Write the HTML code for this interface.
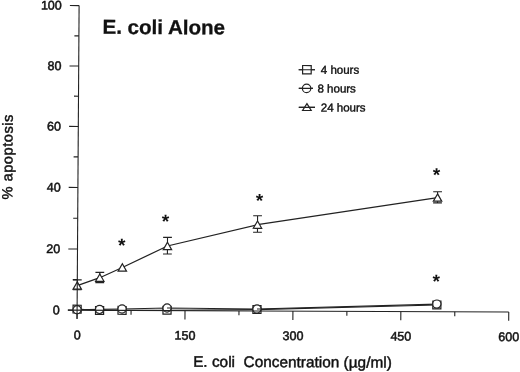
<!DOCTYPE html>
<html><head><meta charset="utf-8"><title>E. coli Alone</title>
<style>html,body{margin:0;padding:0;background:#fff;}body{width:520px;height:372px;overflow:hidden;}svg{display:block;}text{font-family:"Liberation Sans",Arial,Helvetica,sans-serif;fill:#111;}.ln{stroke:#222;stroke-width:1.1;fill:none;}.mk{stroke:#222;stroke-width:1.2;fill:#fff;}.sl{stroke:#222;stroke-width:1.25;fill:none;}.t12{font-size:12.5px;stroke:#111;stroke-width:0.5;}.t11{font-size:11.5px;stroke:#111;stroke-width:0.4;}.t13{font-size:15.3px;stroke:#111;stroke-width:0.45;}.ast{font-size:19px;font-weight:bold;text-anchor:middle;}</style></head><body>
<svg width="520" height="372" viewBox="0 0 520 372">
<rect width="520" height="372" fill="#fff"/>
<g transform="matrix(1,0.0042,-0.00657,1,77.1,310.2)">
<path class="ln" d="M-9.2,0.00 L0,0.00 M-4.5,-30.56 L0,-30.56 M-9.2,-61.22 L0,-61.22 M-4.5,-91.88 L0,-91.88 M-9.2,-122.74 L0,-122.74 M-4.5,-153.30 L0,-153.30 M-9.2,-183.76 L0,-183.76 M-4.5,-214.02 L0,-214.02 M-9.2,-244.18 L0,-244.18 M-4.5,-274.34 L0,-274.34 M-9.2,-304.60 L0,-304.60 "/>
<path class="ln" d="M0.00,0 L0.00,8.8 M53.96,0 L53.96,4.4 M107.91,0 L107.91,8.8 M161.87,0 L161.87,4.4 M215.82,0 L215.82,8.8 M269.78,0 L269.78,4.4 M323.74,0 L323.74,8.8 M377.69,0 L377.69,4.4 M431.65,0 L431.65,8.8 "/>
<text class="t12" x="-17.3" y="4.10" text-anchor="end">0</text>
<text class="t12" x="-17.3" y="-57.12" text-anchor="end">20</text>
<text class="t12" x="-17.3" y="-118.64" text-anchor="end">40</text>
<text class="t12" x="-17.3" y="-179.66" text-anchor="end">60</text>
<text class="t12" x="-17.3" y="-240.08" text-anchor="end">80</text>
<text class="t12" x="-17.3" y="-300.50" text-anchor="end">100</text>
<text class="t12" x="0.20" y="29.0" text-anchor="middle">0</text>
<text class="t12" x="108.11" y="29.0" text-anchor="middle">150</text>
<text class="t12" x="216.02" y="29.0" text-anchor="middle">300</text>
<text class="t12" x="323.94" y="29.0" text-anchor="middle">450</text>
<text class="t12" x="431.85" y="29.0" text-anchor="middle">600</text>
<text class="t13" x="215.72" y="56.1" text-anchor="middle" xml:space="preserve" textLength="198.6" lengthAdjust="spacing">E. coli  Concentration (µg/ml)</text>
<text style="font-size:14.6px;stroke:#111;stroke-width:0.45;" transform="translate(-65.6,-152.80) rotate(-90)" text-anchor="middle" textLength="85" lengthAdjust="spacing">% apoptosis</text>
<text x="23.5" y="-276.5" style="font-size:20.2px;font-weight:bold;stroke:#111;stroke-width:0.3;" textLength="122.6" lengthAdjust="spacingAndGlyphs">E. coli Alone</text>
<path class="ln" d="M0.00,-1.07 L22.48,0.15 L44.96,-0.00 L89.93,-0.30 L179.85,-1.37 L359.71,-6.70"/>
<rect class="mk" x="-4.05" y="-4.97" width="8.1" height="7.8"/>
<rect class="mk" x="18.43" y="-3.75" width="8.1" height="7.8"/>
<rect class="mk" x="40.91" y="-3.90" width="8.1" height="7.8"/>
<rect class="mk" x="85.88" y="-4.20" width="8.1" height="7.8"/>
<rect class="mk" x="175.80" y="-5.27" width="8.1" height="7.8"/>
<rect class="mk" x="355.66" y="-10.60" width="8.1" height="7.8"/>
<path class="ln" d="M0.00,-0.46 L22.48,-0.91 L44.96,-1.37 L89.93,-2.59 L179.85,-1.98 L359.71,-7.62"/>
<circle class="mk" cx="0.00" cy="-0.46" r="4.1"/>
<circle class="mk" cx="22.48" cy="-0.91" r="4.1"/>
<circle class="mk" cx="44.96" cy="-1.37" r="4.1"/>
<circle class="mk" cx="89.93" cy="-2.59" r="4.1"/>
<circle class="mk" cx="179.85" cy="-1.98" r="4.1"/>
<circle class="mk" cx="359.71" cy="-7.62" r="4.1"/>
<path class="ln" d="M89.93,-2.59 l4,0 M179.85,-1.98 l4,0"/>
<path class="ln" d="M-9.2,0 L431.65,0"/>
<path class="ln" d="M0.00,-30.30 L0.00,-20.60 M-4.40,-30.30 L4.40,-30.30 M-4.40,-20.60 L4.40,-20.60 M22.48,-37.89 L22.48,-27.69 M18.08,-37.89 L26.88,-37.89 M18.08,-27.69 L26.88,-27.69 M89.93,-73.18 L89.93,-56.58 M85.53,-73.18 L94.33,-73.18 M85.53,-56.58 L94.33,-56.58 M179.85,-95.16 L179.85,-78.66 M175.45,-95.16 L184.25,-95.16 M175.45,-78.66 L184.25,-78.66 M359.71,-119.91 L359.71,-108.81 M355.31,-119.91 L364.11,-119.91 M355.31,-108.81 L364.11,-108.81 "/>
<path class="sl" d="M0.00,-24.60 L22.48,-32.59 L44.96,-42.89 L89.93,-64.58 L179.85,-86.26 L359.71,-114.11"/>
<path class="mk" d="M0.00,-28.30 L4.20,-21.00 L-4.20,-21.00 Z"/>
<path class="mk" d="M22.48,-36.29 L26.68,-28.99 L18.28,-28.99 Z"/>
<path class="mk" d="M44.96,-46.59 L49.16,-39.29 L40.76,-39.29 Z"/>
<path class="mk" d="M89.93,-68.28 L94.13,-60.98 L85.73,-60.98 Z"/>
<path class="mk" d="M179.85,-89.96 L184.05,-82.66 L175.65,-82.66 Z"/>
<path class="mk" d="M359.71,-117.81 L363.91,-110.51 L355.51,-110.51 Z"/>
<path class="ln" d="M0,-304.60 L0,8.6"/>
<text class="ast" x="44.26" y="-58.59">*</text>
<text class="ast" x="87.80" y="-82.77">*</text>
<text class="ast" x="181.66" y="-103.97">*</text>
<text class="ast" x="358.59" y="-130.41">*</text>
<text class="ast" x="358.99" y="-24.01">*</text>
<path class="ln" d="M220.02,-241.43 L236.32,-241.50"/>
<rect class="mk" x="223.92" y="-245.62" width="8.6" height="8.3"/>
<path class="ln" d="M220.02,-241.43 L236.32,-241.50"/>
<text class="t11" x="242.15" y="-237.52">4 hours</text>
<path class="ln" d="M220.24,-222.73 L234.44,-222.79"/>
<circle class="mk" cx="228.04" cy="-222.76" r="4.2"/>
<path class="ln" d="M220.24,-222.73 L234.44,-222.79"/>
<text class="t11" x="238.97" y="-218.81">8 hours</text>
<path class="ln" d="M220.37,-203.73 L236.57,-203.80"/>
<path class="mk" d="M228.47,-207.47 L232.77,-200.67 L224.17,-200.67 Z"/>
<path class="ln" d="M220.37,-203.73 L236.57,-203.80"/>
<text class="t11" x="242.39" y="-199.82">24 hours</text>
</g></svg></body></html>
